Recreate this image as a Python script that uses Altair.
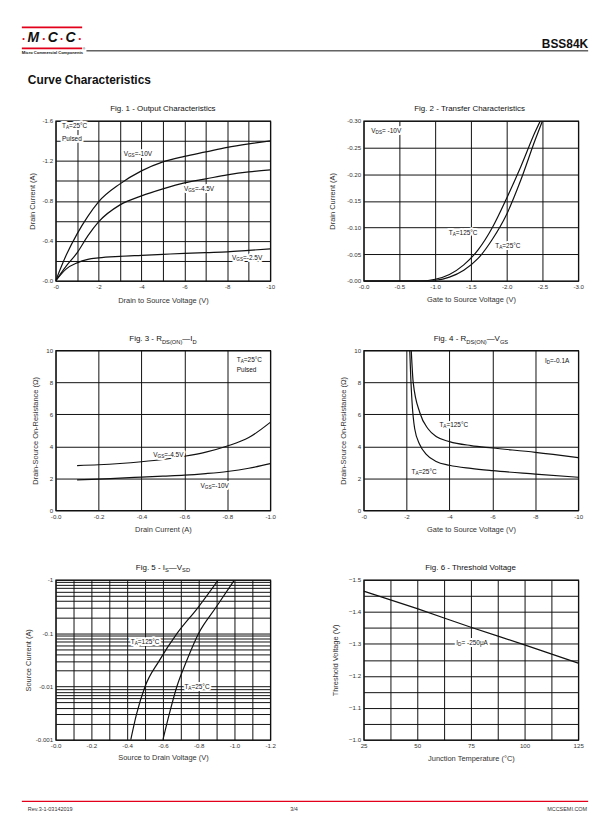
import altair as alt
import pandas as pd

FONT = "Liberation Sans"
W, H = 216, 161
RED = "#e2001a"
INK = "#111111"
GREY = "#333333"

# ---------------- values ----------------
# Fig. 1 - Output Characteristics
F1_VDS = [0, -0.5, -1, -1.5, -2, -3, -4, -5, -6, -7, -8, -9, -10]
F1_ID_VGS10 = [0, -0.26, -0.47, -0.645, -0.79, -0.97, -1.10, -1.19, -1.245, -1.29, -1.335, -1.37, -1.40]
F1_ID_VGS45 = [0, -0.15, -0.28, -0.45, -0.59, -0.76, -0.85, -0.92, -0.98, -1.02, -1.06, -1.09, -1.11]
F1_ID_VGS25 = [0, -0.12, -0.18, -0.215, -0.23, -0.245, -0.255, -0.265, -0.275, -0.283, -0.29, -0.305, -0.32]
F1_X_TICKS = [0, -1, -2, -3, -4, -5, -6, -7, -8, -9, -10]
F1_Y_TICKS = [0, -0.2, -0.4, -0.6, -0.8, -1.0, -1.2, -1.4, -1.6]

# Fig. 2 - Transfer Characteristics
F2_VGS_125 = [0, -0.8, -1.0, -1.2, -1.4, -1.6, -1.8, -2.0, -2.2, -2.4, -2.47]
F2_ID_125 = [0, 0, -0.003, -0.012, -0.03, -0.058, -0.10, -0.155, -0.215, -0.28, -0.30]
F2_VGS_25 = [0, -0.9, -1.0, -1.2, -1.4, -1.6, -1.8, -2.0, -2.2, -2.4, -2.5]
F2_ID_25 = [0, 0, -0.001, -0.007, -0.02, -0.042, -0.078, -0.125, -0.19, -0.265, -0.30]
F2_X_TICKS = [0, -0.5, -1.0, -1.5, -2.0, -2.5, -3.0]
F2_Y_TICKS = [0, -0.05, -0.10, -0.15, -0.20, -0.25, -0.30]

# Fig. 3 - RDS(ON) vs ID
F3_ID = [-0.1, -0.2, -0.3, -0.4, -0.5, -0.6, -0.7, -0.8, -0.9, -1.0]
F3_R_VGS45 = [2.8, 2.85, 2.93, 3.04, 3.18, 3.38, 3.64, 4.02, 4.55, 5.5]
F3_R_VGS10 = [1.9, 1.95, 2.02, 2.08, 2.14, 2.2, 2.3, 2.43, 2.63, 2.92]
F3_X_TICKS = [0, -0.2, -0.4, -0.6, -0.8, -1.0]
F3_Y_TICKS = [0, 2, 4, 6, 8, 10]

# Fig. 4 - RDS(ON) vs VGS
F4_VGS_125 = [-2.22, -2.31, -2.62, -3.0, -3.4, -4.0, -5.0, -6.0, -8.0, -10.0]
F4_R_125 = [10, 8.0, 6.1, 5.1, 4.6, 4.3, 4.05, 3.9, 3.63, 3.3]
F4_VGS_25 = [-2.15, -2.2, -2.25, -2.38, -2.62, -2.92, -3.38, -4.0, -5.0, -6.0, -8.0, -10.0]
F4_R_25 = [10, 8.2, 6.9, 5.1, 4.1, 3.5, 3.06, 2.82, 2.62, 2.48, 2.27, 2.07]
F4_X_TICKS = [0, -2, -4, -6, -8, -10]
F4_Y_TICKS = [0, 2, 4, 6, 8, 10]

# Fig. 5 - IS vs VSD (source current magnitude, log axis)
F5_IS = [0.001, 0.003, 0.01, 0.03, 0.1, 0.3, 1]
F5_VSD_125 = [-0.42, -0.452, -0.50, -0.578, -0.68, -0.795, -0.91]
F5_VSD_25 = [-0.60, -0.635, -0.678, -0.732, -0.80, -0.895, -1.00]
F5_X_TICKS = [0, -0.1, -0.2, -0.3, -0.4, -0.5, -0.6, -0.7, -0.8, -0.9, -1.0, -1.1, -1.2]
F5_Y_TICKS = [0.001, 0.002, 0.003, 0.004, 0.005, 0.006, 0.007, 0.008, 0.009,
              0.01, 0.02, 0.03, 0.04, 0.05, 0.06, 0.07, 0.08, 0.09,
              0.1, 0.2, 0.3, 0.4, 0.5, 0.6, 0.7, 0.8, 0.9, 1]

# Fig. 6 - Threshold Voltage
F6_TJ = [25, 50, 75, 100, 125]
F6_VTH = [-1.465, -1.41, -1.352, -1.297, -1.24]
F6_X_TICKS = [25, 37.5, 50, 62.5, 75, 87.5, 100, 112.5, 125]
F6_Y_TICKS = [-1.0, -1.05, -1.1, -1.15, -1.2, -1.25, -1.3, -1.35, -1.4, -1.45, -1.5]

# ---------------- helpers ----------------
CW = {' ': .278, '-': .333, '.': .278, '=': .584, '(': .333, ')': .333, '—': 1.0, '°': .4,
      'μ': .576, '/': .278, 'A': .667, 'C': .722, 'D': .722, 'F': .611, 'G': .778, 'I': .278,
      'N': .722, 'O': .778, 'P': .667, 'R': .722, 'S': .667, 'T': .611, 'V': .667,
      'a': .556, 'c': .5, 'd': .556, 'e': .556, 'g': .556, 'h': .556, 'i': .222, 'l': .222,
      'o': .556, 'p': .556, 'r': .333, 's': .5, 't': .278, 'u': .556, 'v': .5}


def tw(s, size):
    return sum(CW.get(c, 0.556) for c in s) * size


ONE = pd.DataFrame({"k": [0]})


def rich(parts, size, X=None, Y=None, at=None, px=None, align="left", halo=False, color=INK):
    sizes = [size * 0.72 if sub else size for _, sub in parts]
    widths = [tw(t, s) for (t, _), s in zip(parts, sizes)]
    total = sum(widths)
    start = {"left": 0.0, "center": -total / 2, "right": -total}[align]
    out = []
    for mode in (["halo", "ink"] if halo else ["ink"]):
        cx = start
        for (t, sub), s, w in zip(parts, sizes, widths):
            kw = dict(text=t, align="left", baseline="middle", font=FONT, fontSize=s,
                      dx=cx, dy=(size * 0.3 if sub else 0))
            if mode == "halo":
                kw.update(fill="white", stroke="white", strokeWidth=4, strokeJoin="round")
            else:
                kw.update(fill=color)
            if at is not None:
                ch = alt.Chart(pd.DataFrame({"x": [at[0]], "y": [at[1]]})).mark_text(**kw).encode(x=X, y=Y)
            else:
                ch = alt.Chart(ONE).mark_text(**kw).encode(x=alt.value(px[0]), y=alt.value(px[1]))
            out.append(ch)
            cx += w
    return out


def text_at(txt, x, y, size, align="left", weight="normal", style="normal", color=INK):
    return alt.Chart(ONE).mark_text(text=txt, align=align, baseline="middle", font=FONT,
                                    fontSize=size, fontWeight=weight, fontStyle=style,
                                    fill=color).encode(x=alt.value(x), y=alt.value(y))


def curves(*series):
    frames = [pd.DataFrame({"x": xs, "y": ys, "s": name}) for name, xs, ys in series]
    return pd.concat(frames, ignore_index=True)


def panel(data, xs, ys, xaxis, yaxis, notes, title_parts, title_y, extra=()):
    X = alt.X("x:Q", scale=xs, axis=xaxis)
    Y = alt.Y("y:Q", scale=ys, axis=yaxis)
    layers = [alt.Chart(data).mark_line(color=INK, strokeWidth=1.2, interpolate="monotone",
                                        clip=True).encode(x=X, y=Y, detail="s:N")]
    for parts, nx, ny in notes:
        layers += rich(parts, 6.5, X=X, Y=Y, at=(nx, ny), halo=True)
    layers += rich(title_parts, 8, px=(W / 2, title_y), align="center")
    layers += list(extra)
    return alt.layer(*layers).properties(width=W, height=H)


NEG1 = "'-' + format(abs(datum.value), '.1f')"
NEG2 = "'-' + format(abs(datum.value), '.2f')"
NEGI = "'-' + abs(datum.value)"


def xax(values, expr, title, tpad):
    return alt.Axis(values=values, labelExpr=expr, title=title, titlePadding=tpad)


def yax(values, expr, title, ext, tpad):
    kw = dict(values=values, title=title, titlePadding=tpad, minExtent=ext, maxExtent=ext)
    if expr:
        kw["labelExpr"] = expr
    return alt.Axis(**kw)


# ---------------- header / footer (drawn in fig 1 / fig 5 frames) ----------------
header = [
    alt.Chart(ONE).mark_rect(color=RED).encode(x=alt.value(-34), x2=alt.value(26.7),
                                                y=alt.value(-95), y2=alt.value(-93.3)),
    alt.Chart(ONE).mark_rect(color=RED).encode(x=alt.value(-34), x2=alt.value(26.7),
                                                y=alt.value(-73.8), y2=alt.value(-72.1)),
    text_at("M", -22.5, -83, 14, align="center", weight="bold", style="italic"),
    text_at("C", -3, -83, 14, align="center", weight="bold", style="italic"),
    text_at("C", 15, -83, 14, align="center", weight="bold", style="italic"),
    text_at("•", -32.3, -82.5, 7.5, align="center", color=RED),
    text_at("•", -11.8, -82.5, 7.5, align="center", color=RED),
    text_at("•", 6, -82.5, 7.5, align="center", color=RED),
    text_at("•", 24.3, -82.5, 7.5, align="center", color=RED),
    text_at("Micro Commercial Components", -34, -68.8, 4.1, weight="bold"),
    text_at("®", 27.5, -72.5, 3),
    alt.Chart(ONE).mark_rule(color=INK, strokeWidth=1).encode(x=alt.value(31), x2=alt.value(536),
                                                              y=alt.value(-70.5)),
    text_at("BSS84K", 536, -77, 12, align="right", weight="bold"),
    text_at("Curve Characteristics", -28, -41, 12, weight="bold"),
]

footer = [
    alt.Chart(ONE).mark_rule(color=RED, strokeWidth=1.2).encode(x=alt.value(-34), x2=alt.value(536),
                                                                y=alt.value(223)),
    text_at("Rev.3-1-03142019", -28, 231, 5.5, color=GREY),
    text_at("3/4", 240, 231, 5.5, align="center", color=GREY),
    text_at("MCCSEMI.COM", 535, 231, 5.5, align="right", color=GREY),
]

# ---------------- panels ----------------
fig1 = panel(
    curves(("-10V", F1_VDS, F1_ID_VGS10), ("-4.5V", F1_VDS, F1_ID_VGS45), ("-2.5V", F1_VDS, F1_ID_VGS25)),
    alt.Scale(domain=[0, -10], nice=False, zero=False),
    alt.Scale(domain=[0, -1.6], nice=False, zero=False),
    xax(F1_X_TICKS, "datum.value % 2 == 0 ? " + NEGI + " : ''", "Drain to Source Voltage (V)", 7),
    yax(F1_Y_TICKS, "abs(round(datum.value * 10)) % 4 == 0 ? " + NEG1 + " : ''", "Drain Current (A)", 14, 5),
    [([("T", 0), ("A", 1), ("=25°C", 0)], -0.3, -1.545),
     ([("Pulsed", 0)], -0.3, -1.415),
     ([("V", 0), ("GS", 1), ("=-10V", 0)], -3.17, -1.265),
     ([("V", 0), ("GS", 1), ("=-4.5V", 0)], -5.98, -0.918),
     ([("V", 0), ("GS", 1), ("=-2.5V", 0)], -8.22, -0.23)],
    [("Fig. 1 - Output Characteristics", 0)], -12, header)

fig2 = panel(
    curves(("125", F2_VGS_125, F2_ID_125), ("25", F2_VGS_25, F2_ID_25)),
    alt.Scale(domain=[0, -3], nice=False, zero=False),
    alt.Scale(domain=[0, -0.3], nice=False, zero=False),
    xax(F2_X_TICKS, NEG1, "Gate to Source Voltage (V)", 6),
    yax(F2_Y_TICKS, NEG2, "Drain Current (A)", 17, 10),
    [([("V", 0), ("DS", 1), ("= -10V", 0)], -0.107, -0.281),
     ([("T", 0), ("A", 1), ("=125°C", 0)], -1.19, -0.09),
     ([("T", 0), ("A", 1), ("=25°C", 0)], -1.84, -0.065)],
    [("Fig. 2 - Transfer Characteristics", 0)], -12)

fig3 = panel(
    curves(("-4.5V", F3_ID, F3_R_VGS45), ("-10V", F3_ID, F3_R_VGS10)),
    alt.Scale(domain=[0, -1.0], nice=False, zero=False),
    alt.Scale(domain=[0, 10], nice=False, zero=False),
    xax(F3_X_TICKS, NEG1, "Drain Current (A)", 6),
    yax(F3_Y_TICKS, None, "Drain-Source On-Resistance (Ω)", 11, 5),
    [([("T", 0), ("A", 1), ("=25°C", 0)], -0.844, 9.4),
     ([("Pulsed", 0)], -0.844, 8.78),
     ([("V", 0), ("GS", 1), ("=-4.5V", 0)], -0.455, 3.46),
     ([("V", 0), ("GS", 1), ("=-10V", 0)], -0.675, 1.53)],
    [("Fig. 3 - R", 0), ("DS(ON)", 1), ("—I", 0), ("D", 1)], -11)

fig4 = panel(
    curves(("125", F4_VGS_125, F4_R_125), ("25", F4_VGS_25, F4_R_25)),
    alt.Scale(domain=[0, -10], nice=False, zero=False),
    alt.Scale(domain=[0, 10], nice=False, zero=False),
    xax(F4_X_TICKS, NEGI, "Gate to Source Voltage (V)", 6),
    yax(F4_Y_TICKS, None, "Drain-Source On-Resistance (Ω)", 11, 5),
    [([("I", 0), ("D", 1), ("=-0.1A", 0)], -8.45, 9.33),
     ([("T", 0), ("A", 1), ("=125°C", 0)], -3.53, 5.32),
     ([("T", 0), ("A", 1), ("=25°C", 0)], -2.23, 2.4)],
    [("Fig. 4 - R", 0), ("DS(ON)", 1), ("—V", 0), ("GS", 1)], -11)

fig5 = panel(
    curves(("125", F5_VSD_125, F5_IS), ("25", F5_VSD_25, F5_IS)),
    alt.Scale(domain=[0, -1.2], nice=False, zero=False),
    alt.Scale(type="log", domain=[0.001, 1], nice=False),
    xax(F5_X_TICKS, "abs(round(datum.value * 10)) % 2 == 0 ? " + NEG1 + " : ''",
        "Source to Drain Voltage (V)", 5),
    yax(F5_Y_TICKS,
        "abs(log(datum.value) / LN10 - round(log(datum.value) / LN10)) < 0.001 ? '-' + format(datum.value, '~g') : ''",
        "Source Current (A)", 21, 2.5),
    [([("T", 0), ("A", 1), ("=125°C", 0)], -0.42, 0.069),
     ([("T", 0), ("A", 1), ("=25°C", 0)], -0.72, 0.0096)],
    [("Fig. 5 - I", 0), ("S", 1), ("—V", 0), ("SD", 1)], -12, footer)

fig6 = panel(
    curves(("vth", F6_TJ, F6_VTH)),
    alt.Scale(domain=[25, 125], nice=False, zero=False),
    alt.Scale(domain=[-1.0, -1.5], nice=False, zero=False),
    xax(F6_X_TICKS, "datum.value % 25 == 0 ? '' + datum.value : ''", "Junction Temperature  (°C)", 5.5),
    yax(F6_Y_TICKS, "abs(round(datum.value * 100)) % 10 == 0 ? format(datum.value, '.1f') : ''",
        "Threshold Voltage (V)", 14, 10),
    [([("I", 0), ("D", 1), ("= -250μA", 0)], 68.2, -1.303)],
    [("Fig. 6 - Threshold Voltage", 0)], -12)

chart = alt.concat(fig1, fig2, fig3, fig4, fig5, fig6, columns=2, bounds="flush",
                   spacing=alt.RowColnumber(row=70, column=94)).properties(
    padding={"left": 20, "top": 23, "right": 22, "bottom": 5}
).configure_view(
    stroke=INK, strokeWidth=1.2
).configure_axis(
    labelFont=FONT, labelFontSize=6.2, labelColor=GREY, titleFont=FONT, titleFontSize=7.5,
    titleFontWeight="normal", titleColor=GREY, domain=False, ticks=False, tickSize=0,
    gridColor=INK, gridWidth=1, gridOpacity=1, labelPadding=3, labelFlush=False, labelOverlap=False
)

chart.save("out.html", embed_options={"renderer": "svg", "actions": False})
